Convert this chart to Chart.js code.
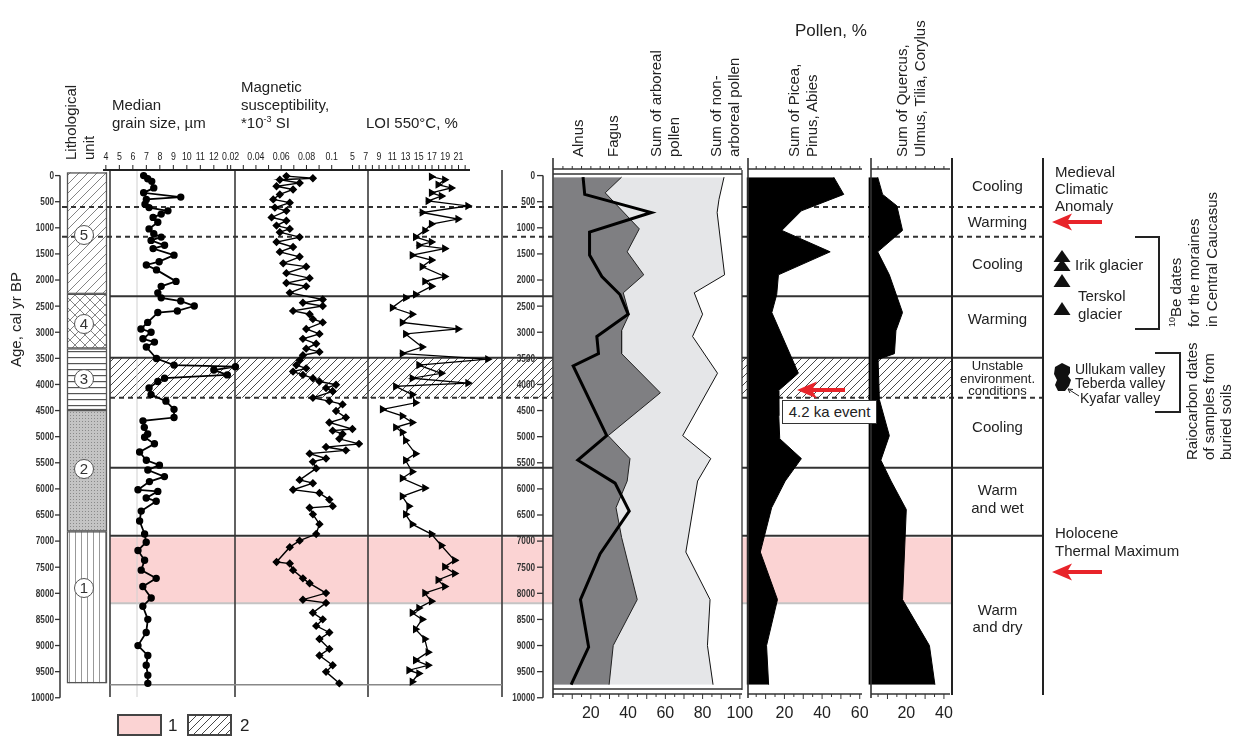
<!DOCTYPE html>
<html>
<head>
<meta charset="utf-8">
<title>Holocene palaeoenvironmental record</title>
<script src="https://cdn.jsdelivr.net/npm/chart.js@4.4.1/dist/chart.umd.min.js"></script>
<style>
  html, body { margin: 0; padding: 0; background: #fff; }
  #wrap { position: relative; width: 1238px; height: 738px; overflow: hidden; }
  #chart { position: absolute; left: 0; top: 0; }
  .t { position: absolute; font-family: 'Liberation Sans', Arial, sans-serif; font-size: 15px; line-height: 1; color: #222; white-space: nowrap; }
  .r { transform-origin: 0 0; transform: rotate(-90deg); }
  .c { text-align: center; width: 91px; }
  .s { font-size: 13px; }
  .v { font-size: 14px; }
  .unit { position: absolute; width: 18px; height: 18px; border: 1px solid #555; border-radius: 50%; background: #fff;
          font: 15px 'Liberation Sans', Arial, sans-serif; line-height: 18px; text-align: center; color: #333; }
  .box { position: absolute; left: 782px; top: 400px; width: 93px; height: 22px; border: 1px solid #333; background: #fff;
         font: 15px 'Liberation Sans', Arial, sans-serif; line-height: 22px; text-align: center; color: #222; }
  sup { font-size: 9px; vertical-align: 6px; }
</style>
</head>
<body>
<div id="wrap">
  <canvas id="chart" width="1238" height="738"></canvas>

  <!-- left column titles -->
  <div class="t r" style="left:62.6px; top:160px;">Lithological</div>
  <div class="t r" style="left:80.6px; top:160px;">unit</div>
  <div class="t r" style="left:7.6px; top:367px;">Age, cal yr BP</div>
  <div class="t" style="left:112px; top:96.6px;">Median</div>
  <div class="t" style="left:112px; top:114.6px;">grain size, µm</div>
  <div class="t" style="left:241px; top:78.6px;">Magnetic</div>
  <div class="t" style="left:241px; top:96.6px;">susceptibility,</div>
  <div class="t" style="left:241px; top:114.6px;">*10<sup>-3</sup> SI</div>
  <div class="t" style="left:366px; top:114.6px;">LOI 550°C, %</div>

  <!-- lithological unit numbers -->
  <div class="unit" style="left:74px; top:225px;">5</div>
  <div class="unit" style="left:74px; top:314px;">4</div>
  <div class="unit" style="left:74px; top:369px;">3</div>
  <div class="unit" style="left:74px; top:459px;">2</div>
  <div class="unit" style="left:74px; top:578px;">1</div>

  <!-- pollen titles -->
  <div class="t" style="left:795px; top:21.7px; font-size:17px;">Pollen, %</div>
  <div class="t r" style="left:569.6px; top:157px;">Alnus</div>
  <div class="t r" style="left:604.6px; top:157px;">Fagus</div>
  <div class="t r" style="left:647.6px; top:157px;">Sum of arboreal</div>
  <div class="t r" style="left:665.6px; top:157px;">pollen</div>
  <div class="t r" style="left:707.6px; top:157px;">Sum of non-</div>
  <div class="t r" style="left:725.6px; top:157px;">arboreal pollen</div>
  <div class="t r" style="left:785.6px; top:157px;">Sum of Picea,</div>
  <div class="t r" style="left:803.6px; top:157px;">Pinus, Abies</div>
  <div class="t r" style="left:893.6px; top:157px;">Sum of Quercus,</div>
  <div class="t r" style="left:911.6px; top:157px;">Ulmus, Tilia, Corylus</div>

  <div class="box">4.2 ka event</div>

  <!-- climate column -->
  <div class="t c" style="left:952px; top:177.6px;">Cooling</div>
  <div class="t c" style="left:952px; top:213.6px;">Warming</div>
  <div class="t c" style="left:952px; top:255.6px;">Cooling</div>
  <div class="t c" style="left:952px; top:310.6px;">Warming</div>
  <div class="t c s" style="left:952px; top:358.6px;">Unstable</div>
  <div class="t c s" style="left:952px; top:371.6px;">environment.</div>
  <div class="t c s" style="left:952px; top:383.6px;">conditions</div>
  <div class="t c" style="left:952px; top:418.6px;">Cooling</div>
  <div class="t c" style="left:952px; top:481.6px;">Warm</div>
  <div class="t c" style="left:952px; top:499.6px;">and wet</div>
  <div class="t c" style="left:952px; top:601.6px;">Warm</div>
  <div class="t c" style="left:952px; top:618.6px;">and dry</div>

  <!-- right annotations -->
  <div class="t" style="left:1055px; top:163.6px;">Medieval</div>
  <div class="t" style="left:1055px; top:180.6px;">Climatic</div>
  <div class="t" style="left:1055px; top:197.6px;">Anomaly</div>
  <div class="t" style="left:1075px; top:256.6px;">Irik glacier</div>
  <div class="t" style="left:1078px; top:287.6px;">Terskol</div>
  <div class="t" style="left:1078px; top:305.6px;">glacier</div>
  <div class="t v" style="left:1075px; top:362px;">Ullukam valley</div>
  <div class="t v" style="left:1075px; top:376px;">Teberda valley</div>
  <div class="t v" style="left:1080px; top:391px;">Kyafar valley</div>
  <div class="t r" style="left:1167.6px; top:327px;"><sup>10</sup>Be dates</div>
  <div class="t r" style="left:1185.6px; top:327px;">for the moraines</div>
  <div class="t r" style="left:1203.6px; top:327px;">in Central Caucasus</div>
  <div class="t r" style="left:1183.6px; top:460px;">Raiocarbon dates</div>
  <div class="t r" style="left:1200.6px; top:460px;">of samples from</div>
  <div class="t r" style="left:1217.6px; top:460px;">buried soils</div>
  <div class="t" style="left:1055px; top:524.6px;">Holocene</div>
  <div class="t" style="left:1055px; top:542.6px;">Thermal Maximum</div>

  <!-- legend -->
  <div class="t" style="left:168px; top:716.7px; font-size:17px;">1</div>
  <div class="t" style="left:240px; top:716.7px; font-size:17px;">2</div>
</div>

<script>
// ---- data (ages in cal yr BP) ----
const grainAge = [0, 60, 110, 236, 330, 412, 456, 550, 613, 675, 738, 801, 895, 1021, 1115, 1178, 1241, 1335, 1398, 1524,
  1649, 1712, 1806, 2026, 2121, 2246, 2341, 2403, 2498, 2592, 2623, 2812, 2937, 3000, 3126, 3189, 3283, 3503, 3629, 3660,
  3723, 3817, 3880, 3943, 4068, 4194, 4320, 4477, 4634, 4697, 4822, 4948, 5011, 5137, 5294, 5451, 5545, 5639, 5765, 5860,
  6017, 6048, 6174, 6237, 6425, 6614, 6865, 7022, 7179, 7368, 7556, 7713, 7870, 8090, 8247, 8499, 8750, 9001, 9190, 9378,
  9567, 9724];
const grainVal = [6.8, 7.1, 7.4, 7.55, 6.8, 9.55, 7.0, 6.9, 7.2, 8.6, 8.1, 7.5, 7.85, 7.2, 7.55, 8.1, 7.35, 8.35, 7.5, 9.05,
  7.95, 7.0, 7.75, 9.2, 8.1, 7.85, 8.1, 9.55, 10.55, 9.3, 7.85, 7.1, 6.6, 7.35, 6.75, 7.6, 7.0, 7.75, 9.05, 13.6,
  12.0, 13.0, 8.35, 7.85, 7.2, 7.35, 8.45, 9.05, 9.05, 6.75, 6.85, 7.1, 6.87, 7.6, 6.5, 7.0, 7.97, 7.11, 8.34, 7.23,
  6.38, 7.85, 6.99, 7.73, 6.62, 6.5, 6.87, 6.99, 6.38, 6.87, 6.62, 7.73, 6.74, 7.36, 6.74, 7.11, 6.99, 6.38, 7.11, 6.99,
  7.11, 7.11];

const magAge = [10, 50, 79, 141, 204, 267, 361, 456, 518, 613, 675, 801, 864, 958, 1021, 1084, 1178, 1272, 1367, 1461,
  1555, 1681, 1744, 1869, 1964, 2058, 2121, 2246, 2372, 2435, 2498, 2592, 2655, 2749, 2812, 2937, 3032, 3126, 3220, 3314,
  3377, 3440, 3534, 3629, 3691, 3754, 3817, 3880, 3943, 4005, 4068, 4131, 4257, 4320, 4382, 4508, 4634, 4728, 4854, 4885,
  4948, 5042, 5137, 5199, 5262, 5325, 5419, 5482, 5608, 5828, 5891, 6016, 6080, 6205, 6331, 6362, 6488, 6676, 6865, 6991,
  7116, 7399, 7430, 7556, 7713, 7808, 7996, 8122, 8184, 8373, 8499, 8624, 8750, 8876, 9064, 9190, 9378, 9504, 9724];
const magVal = [0.0641, 0.0851, 0.0589, 0.0746, 0.0563, 0.0694, 0.0589, 0.0537, 0.0668, 0.055, 0.0641, 0.0524, 0.0641, 0.0563, 0.0668, 0.0589, 0.0746, 0.0563, 0.0694, 0.0589,
  0.0746, 0.0616, 0.0798, 0.0641, 0.0825, 0.0641, 0.0798, 0.0668, 0.0929, 0.0772, 0.0929, 0.0694, 0.0825, 0.0851, 0.0929, 0.0798, 0.0903, 0.0772, 0.0877, 0.0798,
  0.0903, 0.0772, 0.0746, 0.072, 0.0798, 0.0694, 0.0772, 0.0851, 0.0903, 0.1034, 0.0955, 0.1008, 0.0851, 0.0981, 0.1086, 0.1034, 0.1112, 0.0981, 0.1164, 0.1008,
  0.1086, 0.106, 0.1216, 0.0955, 0.1112, 0.0825, 0.0955, 0.0851, 0.0877, 0.0746, 0.0851, 0.0694, 0.0903, 0.0981, 0.1008, 0.0825, 0.0851, 0.0903, 0.0877, 0.0746,
  0.0668, 0.0563, 0.0668, 0.0694, 0.0772, 0.0825, 0.0955, 0.0772, 0.0955, 0.0851, 0.0929, 0.0877, 0.0981, 0.0903, 0.0981, 0.0903, 0.1008, 0.0955, 0.106];

const loiAge = [20, 79, 173, 236, 330, 393, 487, 581, 707, 832, 927, 1052, 1178, 1272, 1335, 1398, 1524, 1618, 1744, 1932,
  2026, 2121, 2278, 2341, 2529, 2655, 2812, 2937, 3032, 3283, 3408, 3515, 3629, 3786, 3880, 3974, 4037, 4194, 4351, 4477,
  4602, 4728, 4822, 4917, 5074, 5325, 5451, 5671, 5797, 5985, 6142, 6331, 6488, 6676, 6865, 7085, 7368, 7493, 7619, 7745,
  7870, 7996, 8153, 8279, 8373, 8499, 8687, 8876, 9127, 9284, 9378, 9473, 9536, 9693];
const loiVal = [16.9, 18.9, 17.9, 19.9, 16.9, 18.4, 16.4, 22.4, 15.5, 20.9, 16.9, 15.9, 14.5, 16.9, 15.0, 18.9, 14.0, 16.9, 15.5, 18.9,
  15.9, 16.9, 14.5, 13.0, 11.0, 14.0, 12.5, 20.9, 13.0, 15.5, 12.5, 25.4, 15.0, 18.4, 14.0, 22.4, 11.5, 14.0, 14.5, 9.5,
  12.5, 14.0, 11.5, 12.5, 13.0, 14.5, 13.0, 14.0, 12.5, 15.9, 12.5, 13.5, 13.0, 14.0, 16.9, 18.4, 20.4, 18.9, 20.4, 17.9,
  18.9, 15.9, 16.9, 15.0, 14.0, 15.5, 14.5, 15.9, 16.4, 14.5, 16.4, 13.5, 15.0, 14.0];

const apAge = [30, 330, 1020, 1460, 1900, 2245, 2655, 2970, 3410, 4160, 4980, 5420, 5850, 6360, 6930, 8120, 9000, 9750];
const apVal = [36.5, 27.7, 46, 39.5, 48.4, 37.4, 40.6, 36.5, 36.5, 57.3, 29.3, 41, 39.5, 33.5, 36.5, 44.9, 32, 29.8];
const napAge = [30, 455, 707, 1900, 2245, 2655, 3080, 3785, 4980, 5420, 5850, 7210, 8120, 9000, 9750];
const napVal = [91.5, 88.8, 87.8, 91.8, 75.5, 80, 74.6, 88, 69.3, 84.4, 77.3, 71, 84, 82.6, 85.6];
const alnusAge = [30, 360, 707, 1084, 1523, 1932, 2277, 2655, 3080, 3410, 3645, 4980, 5450, 5890, 6425, 7240, 8120, 9030, 9750];
const alnusVal = [15.8, 16.7, 52.5, 19.3, 19.3, 25.9, 35.6, 40, 23.2, 24.1, 10.5, 28.5, 13, 33, 40.6, 25, 14.4, 18.8, 9.4];
const piceaAge = [30, 360, 675, 1050, 1460, 1900, 2277, 2623, 3785, 4120, 4600, 5040, 5420, 5850, 6360, 7210, 8120, 9000, 9750];
const piceaVal = [46.2, 51.5, 29, 18.6, 44.3, 16.8, 15.9, 13.3, 27.4, 16.8, 17, 17.5, 29, 20.4, 13.2, 7.2, 16.3, 10.5, 11.6];
const quercusAge = [30, 360, 580, 1050, 1460, 1900, 2623, 2970, 3410, 3520, 4290, 4980, 5450, 5850, 6395, 8120, 9000, 9750];
const quercusVal = [4.8, 7.4, 15, 18, 4.8, 11, 18, 14.5, 13.7, 5, 5.7, 11, 6.5, 11.9, 20, 18, 32.3, 35.2];

// tick labels
const ageTicks = [0, 500, 1000, 1500, 2000, 2500, 3000, 3500, 4000, 4500, 5000, 5500, 6000, 6500, 7000, 7500, 8000, 8500, 9000, 9500, 10000];
const grainTicks = [4, 5, 6, 7, 8, 9, 10, 11, 12];
const magTicks = [0.02, 0.04, 0.06, 0.08, 0.1];
const loiTicks = [5, 7, 9, 11, 13, 15, 17, 19, 21];
const pollenTicks = [20, 40, 60, 80, 100];
const piceaTicks = [20, 40, 60];
const quercusTicks = [20, 40];

// zones (ages)
const dashedAges = [600, 1170];
const solidAges = [2310, 5595, 6896];
const hatchZone = [3490, 4255];
const pinkZone = [6930, 8190];
const lithoUnits = [
  { from: -60, to: 2265, pat: 'diag' },
  { from: 2265, to: 3310, pat: 'cross' },
  { from: 3310, to: 4490, pat: 'horiz' },
  { from: 4490, to: 6814, pat: 'stipple' },
  { from: 6814, to: 9720, pat: 'vert' }
];

// ---- layout: each panel's value axis is stretched across the whole canvas ----
const W = 1238, H = 738;
function fitRange(p0, v0, p1, v1, size) {
  const k = (v1 - v0) / (p1 - p0);
  return { min: v0 - p0 * k, max: v0 + (size - p0) * k };
}
const ageRange = fitRange(172.5, 0, 703, 10000, H);
const ranges = {
  xGrain: fitRange(101, 4, 210, 12, W),
  xMag: fitRange(227, 0.02, 329, 0.1, W),
  xLoi: fitRange(350, 5, 457, 21, W),
  xPollen: fitRange(553, 0, 741, 100, W),
  xPicea: fitRange(748, 0, 862, 60, W),
  xQuercus: fitRange(871, 0, 947, 40, W)
};

const INK = '#222';
const PINK = '#fbd3d3';
const RED = '#e8242a';

function pts(ages, vals) { return ages.map((a, i) => ({ x: vals[i], y: a })); }

function makePattern(ctx, w, h, draw) {
  const c = document.createElement('canvas');
  c.width = w; c.height = h;
  draw(c.getContext('2d'), w, h);
  return ctx.createPattern(c, 'repeat');
}
function diagLines(g, s) {
  g.beginPath();
  g.moveTo(0, s); g.lineTo(s, 0);
  g.moveTo(-s, s); g.lineTo(s, -s);
  g.moveTo(0, 2 * s); g.lineTo(2 * s, 0);
  g.stroke();
}
let pats = null;
function buildPatterns(ctx) {
  pats = {
    hatch: makePattern(ctx, 8, 8, (g, s) => { g.strokeStyle = '#333'; g.lineWidth = 0.9; diagLines(g, s); }),
    diag: makePattern(ctx, 9, 9, (g, s) => { g.strokeStyle = '#777'; g.lineWidth = 0.9; diagLines(g, s); }),
    cross: makePattern(ctx, 10, 10, (g, s) => {
      g.strokeStyle = '#777'; g.lineWidth = 0.9; diagLines(g, s);
      g.beginPath(); g.moveTo(0, 0); g.lineTo(s, s); g.moveTo(-s, 0); g.lineTo(s, 2 * s); g.moveTo(0, -s); g.lineTo(2 * s, s); g.stroke();
    }),
    horiz: makePattern(ctx, 10, 6.5, (g, w, h) => { g.fillStyle = '#555'; g.fillRect(0, 3, w, 1.2); }),
    vert: makePattern(ctx, 6, 10, (g, w, h) => { g.fillStyle = '#999'; g.fillRect(3, 0, 1, h); }),
    stipple: makePattern(ctx, 3, 3, (g) => { g.fillStyle = '#c4c4c4'; g.fillRect(0, 0, 3, 3); g.fillStyle = '#8a8a8a'; g.fillRect(1, 1, 1, 1); })
  };
}

function seg(ctx, x0, y0, x1, y1, w, color, dash) {
  ctx.save();
  ctx.beginPath();
  ctx.lineWidth = w; ctx.strokeStyle = color || INK;
  ctx.setLineDash(dash || []);
  ctx.moveTo(x0, y0); ctx.lineTo(x1, y1);
  ctx.stroke();
  ctx.restore();
}

// narrow tick label: text squeezed horizontally
function squeezed(ctx, text, x, y, sx) {
  ctx.save(); ctx.translate(x, y); ctx.scale(sx, 1);
  ctx.fillText(text, 0, 0);
  ctx.restore();
}

function redArrow(ctx, xTail, xTip, y) {
  ctx.save();
  ctx.fillStyle = RED; ctx.strokeStyle = RED;
  ctx.lineWidth = 4;
  ctx.beginPath(); ctx.moveTo(xTail, y); ctx.lineTo(xTip + 14, y); ctx.stroke();
  ctx.beginPath();
  ctx.moveTo(xTip, y); ctx.lineTo(xTip + 20, y - 8.5); ctx.lineTo(xTip + 15, y); ctx.lineTo(xTip + 20, y + 8.5);
  ctx.closePath(); ctx.fill();
  ctx.restore();
}

const backdrop = {
  id: 'backdrop',
  beforeDatasetsDraw(chart) {
    const ctx = chart.ctx;
    const Y = v => chart.scales.y.getPixelForValue(v);
    if (!pats) buildPatterns(ctx);
    ctx.save();

    // lithological column
    lithoUnits.forEach(u => {
      const t = Y(u.from), b = Y(u.to);
      ctx.fillStyle = '#fff'; ctx.fillRect(67, t, 40, b - t);
      ctx.fillStyle = pats[u.pat]; ctx.fillRect(67, t, 40, b - t);
      ctx.strokeStyle = '#555'; ctx.lineWidth = 1.3;
      ctx.strokeRect(67.5, t + 0.5, 39, b - t - 1);
    });

    // pink interval (1) and hatched interval (2)
    const spans = [[110, 553], [742, 952]];
    const pt = Y(pinkZone[0]), pb = Y(pinkZone[1]);
    const ht = Y(hatchZone[0]), hb = Y(hatchZone[1]);
    spans.forEach(([a, b]) => {
      ctx.fillStyle = PINK; ctx.fillRect(a, pt, b - a, pb - pt);
      seg(ctx, a, pb, b, pb, 2, '#c4c4c4');
      ctx.fillStyle = pats.hatch; ctx.fillRect(a, ht, b - a, hb - ht);
    });

    // faint reference line in grain-size panel
    seg(ctx, 137, 170, 137, 697, 1, '#d0d0d0');

    // panel separators of the left block
    [110, 235, 368, 502].forEach(x => seg(ctx, x, 170, x, 697, 1.6, '#3a3a3a'));
    seg(ctx, 110, Y(9750), 502, Y(9750), 1.6, '#888');

    // horizontal boundaries
    dashedAges.forEach(a => {
      seg(ctx, 62, Y(a), 553, Y(a), 2, '#333', [5, 4]);
      seg(ctx, 742, Y(a), 1043, Y(a), 2, '#333', [5, 4]);
    });
    [...solidAges, hatchZone[0]].forEach(a => {
      seg(ctx, 110, Y(a), 553, Y(a), 2, '#333');
      seg(ctx, 742, Y(a), 1043, Y(a), 2, '#333');
    });
    seg(ctx, 110, hb, 553, hb, 2, '#333', [5, 4]);
    seg(ctx, 742, hb, 1043, hb, 2, '#333', [5, 4]);
    ctx.restore();
  }
};

const overlay = {
  id: 'overlay',
  afterDatasetsDraw(chart) {
    const ctx = chart.ctx, s = chart.scales;
    const Y = v => s.y.getPixelForValue(v);
    ctx.save();
    ctx.fillStyle = INK;
    ctx.font = "11px 'Liberation Sans', Arial, sans-serif";
    ctx.textAlign = 'center'; ctx.textBaseline = 'middle';

    // top axis of the left block
    seg(ctx, 103, 170, 470, 170, 2, INK);
    for (let v = 4; v <= 13; v++) seg(ctx, s.xGrain.getPixelForValue(v), 165, s.xGrain.getPixelForValue(v), 170, 1, INK);
    for (let v = 0.02; v <= 0.1001; v += 0.01) seg(ctx, s.xMag.getPixelForValue(v), 165, s.xMag.getPixelForValue(v), 170, 1, INK);
    for (let v = 5; v <= 22; v++) seg(ctx, s.xLoi.getPixelForValue(v), 165, s.xLoi.getPixelForValue(v), 170, 1, INK);
    grainTicks.forEach(v => squeezed(ctx, String(v), s.xGrain.getPixelForValue(v), 157, 0.8));
    magTicks.forEach(v => squeezed(ctx, String(v), s.xMag.getPixelForValue(v), 157, 0.8));
    loiTicks.forEach(v => squeezed(ctx, String(v), s.xLoi.getPixelForValue(v), 157, 0.8));

    // age axes (left and right of the left block)
    seg(ctx, 60, Y(0), 60, Y(10000), 1.5, '#333');
    seg(ctx, 543, Y(0), 543, Y(10000), 1.5, '#333');
    ctx.font = "bold 10.5px 'Liberation Sans', Arial, sans-serif";
    ctx.textAlign = 'right';
    ctx.fillStyle = '#333';
    ageTicks.forEach(a => {
      const y = Y(a);
      seg(ctx, 55, y, 60, y, 1.3, '#333');
      seg(ctx, 537, y, 543, y, 1.3, '#333');
      squeezed(ctx, String(a), 54, y + 0.5, 0.78);
      squeezed(ctx, String(a), 535, y + 0.5, 0.78);
    });

    // pollen panels frames and axes
    [553, 748, 871].forEach(x => seg(ctx, x, 158, x, 698, 1.6, '#333'));
    seg(ctx, 553, 174, 742, 174, 1.3, '#333');
    seg(ctx, 742, 170, 742, 690, 1.3, '#333');
    seg(ctx, 553, 689, 742, 689, 1.3, '#333');
    const panels = [
      { id: 'xPollen', a: 553, b: 742, max: 100, labels: pollenTicks },
      { id: 'xPicea', a: 748, b: 862, max: 60, labels: piceaTicks },
      { id: 'xQuercus', a: 871, b: 950, max: 40, labels: quercusTicks }
    ];
    ctx.font = "16px 'Liberation Sans', Arial, sans-serif";
    ctx.textAlign = 'center';
    ctx.fillStyle = INK;
    panels.forEach(p => {
      const sc = s[p.id];
      seg(ctx, p.a, 169, p.b, 169, 1.3, '#333');
      seg(ctx, p.a, 694, p.b, 694, 1.3, '#333');
      for (let v = 5; v <= p.max; v += 5) {
        const x = sc.getPixelForValue(v);
        seg(ctx, x, 166, x, 169, 1, '#333');
        seg(ctx, x, 694, x, v % 10 === 0 ? 699 : 697, 1, '#333');
      }
      p.labels.forEach(v => ctx.fillText(String(v), sc.getPixelForValue(v), 714));
    });

    // climate column
    seg(ctx, 952, 158, 952, 695, 2, INK);
    seg(ctx, 1043, 158, 1043, 695, 2, INK);

    // brackets
    ctx.strokeStyle = INK; ctx.lineWidth = 2;
    ctx.beginPath(); ctx.moveTo(1135, 237); ctx.lineTo(1159, 237); ctx.lineTo(1159, 329); ctx.lineTo(1135, 329); ctx.stroke();
    ctx.beginPath(); ctx.moveTo(1155, 353); ctx.lineTo(1180, 353); ctx.lineTo(1180, 412); ctx.lineTo(1155, 412); ctx.stroke();

    // 10Be date symbols
    ctx.fillStyle = '#111';
    [[250, 262], [259, 271], [274, 287], [302, 315]].forEach(([t, b]) => {
      ctx.beginPath(); ctx.moveTo(1062, t); ctx.lineTo(1070.5, b); ctx.lineTo(1053.5, b); ctx.closePath(); ctx.fill();
    });
    // radiocarbon symbols
    ctx.beginPath();
    ctx.moveTo(1062, 363); ctx.lineTo(1070, 367); ctx.lineTo(1070, 373); ctx.lineTo(1068, 376); ctx.lineTo(1071, 380);
    ctx.lineTo(1069, 386); ctx.lineTo(1065, 391); ctx.lineTo(1058, 391); ctx.lineTo(1055, 385); ctx.lineTo(1057, 380);
    ctx.lineTo(1054, 374); ctx.lineTo(1055, 367); ctx.closePath(); ctx.fill();
    seg(ctx, 1079, 396, 1068, 389, 1, '#222');
    seg(ctx, 1068, 389, 1073, 389.5, 1, '#222');
    seg(ctx, 1068, 389, 1070, 393, 1, '#222');

    // arrows
    redArrow(ctx, 1102, 1052, 222);
    redArrow(ctx, 1102, 1052, 572);
    redArrow(ctx, 845, 797, 390);

    // legend boxes
    ctx.fillStyle = PINK; ctx.fillRect(118, 715, 43, 20);
    ctx.strokeStyle = '#444'; ctx.lineWidth = 2; ctx.strokeRect(118, 715, 43, 20);
    ctx.fillStyle = '#fff'; ctx.fillRect(188, 715, 43, 20);
    ctx.fillStyle = pats.hatch; ctx.fillRect(188, 715, 43, 20);
    ctx.strokeRect(188, 715, 43, 20);
    ctx.restore();
  }
};

const scales = { y: { type: 'linear', axis: 'y', display: false, reverse: true, min: ageRange.min, max: ageRange.max } };
Object.keys(ranges).forEach(id => {
  scales[id] = { type: 'linear', axis: 'x', display: false, min: ranges[id].min, max: ranges[id].max };
});

new Chart(document.getElementById('chart'), {
  type: 'line',
  data: {
    datasets: [
      { label: 'Median grain size', data: pts(grainAge, grainVal), xAxisID: 'xGrain', yAxisID: 'y',
        borderColor: '#000', borderWidth: 1.8, pointStyle: 'circle', pointRadius: 2.8,
        pointBackgroundColor: '#000', pointBorderColor: '#000', fill: false, order: 1 },
      { label: 'Magnetic susceptibility', data: pts(magAge, magVal), xAxisID: 'xMag', yAxisID: 'y',
        borderColor: '#000', borderWidth: 1.4, pointStyle: 'rectRot', pointRadius: 3.2,
        pointBackgroundColor: '#000', pointBorderColor: '#000', fill: false, order: 1 },
      { label: 'LOI 550', data: pts(loiAge, loiVal), xAxisID: 'xLoi', yAxisID: 'y',
        borderColor: '#000', borderWidth: 1.3, pointStyle: 'triangle', pointRotation: 90, pointRadius: 3.6,
        pointBackgroundColor: '#000', pointBorderColor: '#000', fill: false, order: 1 },
      { label: 'Sum of non-arboreal pollen', data: pts(napAge, napVal), xAxisID: 'xPollen', yAxisID: 'y',
        borderColor: '#111', borderWidth: 1, backgroundColor: '#e5e6e8', pointRadius: 0, fill: { value: 0 }, order: 6 },
      { label: 'Sum of arboreal pollen', data: pts(apAge, apVal), xAxisID: 'xPollen', yAxisID: 'y',
        borderColor: '#222', borderWidth: 1, backgroundColor: '#7f7f82', pointRadius: 0, fill: { value: 0 }, order: 5 },
      { label: 'Alnus', data: pts(alnusAge, alnusVal), xAxisID: 'xPollen', yAxisID: 'y',
        borderColor: '#000', borderWidth: 3, pointRadius: 0, fill: false, order: 4 },
      { label: 'Picea, Pinus, Abies', data: pts(piceaAge, piceaVal), xAxisID: 'xPicea', yAxisID: 'y',
        borderColor: '#000', borderWidth: 1, backgroundColor: '#000', pointRadius: 0, fill: { value: 0 }, order: 3 },
      { label: 'Quercus, Ulmus, Tilia, Corylus', data: pts(quercusAge, quercusVal), xAxisID: 'xQuercus', yAxisID: 'y',
        borderColor: '#000', borderWidth: 1, backgroundColor: '#000', pointRadius: 0, fill: { value: 0 }, order: 3 }
    ]
  },
  options: {
    indexAxis: 'y',
    responsive: false,
    animation: false,
    devicePixelRatio: 1,
    events: [],
    layout: { padding: 0 },
    elements: { line: { tension: 0 } },
    scales: scales,
    plugins: { legend: { display: false }, tooltip: { enabled: false } }
  },
  plugins: [backdrop, overlay]
});
</script>
</body>
</html>
